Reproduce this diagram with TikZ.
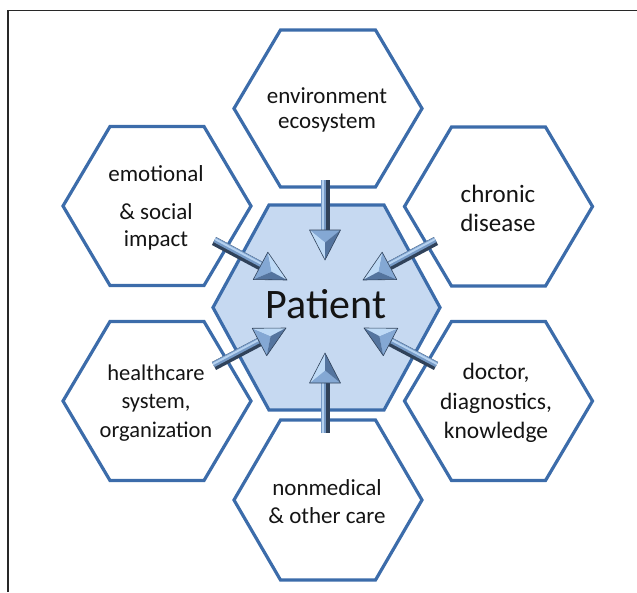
\documentclass[tikz,border=0pt]{standalone}
\usepackage{fontspec}
\setmainfont{Carlito}
\usetikzlibrary{calc}
\definecolor{hexblue}{RGB}{60,108,170}
\definecolor{hexfill}{RGB}{198,217,241}
\definecolor{framecol}{RGB}{40,40,40}
\definecolor{arrdark}{RGB}{48,66,90}
\definecolor{arrmid}{RGB}{118,154,198}
\definecolor{arrlight}{RGB}{182,210,240}
\definecolor{facetlight}{RGB}{190,218,246}
\definecolor{facetback}{RGB}{132,168,212}
\definecolor{facetdark}{RGB}{84,116,158}
\newcommand\hexcell[6]{%
  \draw[#1] (#2-#4,#3) -- (#2-#6,#3-#5) -- (#2+#6,#3-#5) -- (#2+#4,#3)
    -- (#2+#6,#3+#5) -- (#2-#6,#3+#5) -- cycle;}
\newcommand\bevelarrow[4]{% #1 start, #2 tip, #3 light side angle, #4 dark side angle
  \coordinate (bB) at ($(#2)!30pt!(#1)$);
  \coordinate (bL) at ($(bB)!15.5pt!#3:(#2)$);
  \coordinate (bR) at ($(bB)!15.5pt!#4:(#2)$);
  \coordinate (bC) at ($(bB)!0.42!(#2)$);
  \draw[line width=9pt, arrdark] (#1) -- (bB);
  \draw[line width=5.5pt, arrmid] ($(#1)!1.6pt!#3:(#2)$) -- ($(bB)!1.6pt!#3:(#2)$);
  \draw[line width=2pt, arrlight] ($(#1)!2.2pt!#3:(#2)$) -- ($(bB)!2.2pt!#3:(#2)$);
  \fill[facetback] (bL) -- (bR) -- (bC) -- cycle;
  \fill[facetlight] (bL) -- (#2) -- (bC) -- cycle;
  \fill[facetdark] (bR) -- (#2) -- (bC) -- cycle;
  \draw[arrdark, line width=0.6pt, line join=round] (bL) -- (#2) -- (bR) -- cycle;
}
\begin{document}
\begin{tikzpicture}[x=1pt,y=-1pt,
  hexline/.style={draw=hexblue, line width=3.2pt, line join=miter},
  hexcenter/.style={draw=hexblue, fill=hexfill, line width=3.2pt, line join=miter},
  lbl/.style={align=center, text=black!92, inner sep=0pt}]
\useasboundingbox (0,0) rectangle (637,592);
\draw[framecol, line width=1.1pt] (8,592) -- (8,10.5) -- (637,10.5);
% outer hexagons
\hexcell{hexline}{328}{108.5}{94}{78.5}{47.5}
\hexcell{hexline}{328}{500}{94}{80}{47.5}
\hexcell{hexline}{157}{206}{94}{79.5}{47}
\hexcell{hexline}{498.5}{206.5}{94}{79.5}{47}
\hexcell{hexline}{157}{401}{94}{79.5}{47}
\hexcell{hexline}{498.5}{401}{94}{79.5}{47}
% centre hexagon
\hexcell{hexcenter}{326.5}{307.5}{113.5}{102.5}{57.5}
% labels
\node[lbl, font=\fontsize{23}{25}\selectfont] (env) at (327,110) {environment\\ecosystem};
\node[lbl, font=\fontsize{25}{29}\selectfont] (chr) at (498,208) {chronic\\disease};
\node[lbl, font=\fontsize{23}{27}\selectfont] (emo) at (156,208) {emotional\\[11pt]\& social\\impact};
\node[lbl, font=\fontsize{22.5}{28.5}\selectfont] (hc) at (156,403) {healthcare\\system,\\organization};
\node[lbl, font=\fontsize{23.5}{29.5}\selectfont] (doc) at (496,403) {doctor,\\diagnostics,\\knowledge};
\node[lbl, font=\fontsize{23}{28}\selectfont] (nm) at (327,502) {nonmedical\\\& other care};
\node[lbl, font=\fontsize{42}{48}\selectfont] (pat) at (326,304) {Patient};
% arrows
\coordinate (sT) at (325,180);  \coordinate (tT) at (325,260);
\coordinate (sB) at (325,433);  \coordinate (tB) at (325,353);
\coordinate (sUL) at (214,241); \coordinate (tUL) at (287,280);
\coordinate (sUR) at (436,241); \coordinate (tUR) at (363,280);
\coordinate (sLL) at (214,366); \coordinate (tLL) at (286,328);
\coordinate (sLR) at (436,366); \coordinate (tLR) at (364,328);
\bevelarrow{sT}{tT}{-90}{90}
\bevelarrow{sB}{tB}{90}{-90}
\bevelarrow{sUL}{tUL}{90}{-90}
\bevelarrow{sUR}{tUR}{-90}{90}
\bevelarrow{sLL}{tLL}{90}{-90}
\bevelarrow{sLR}{tLR}{-90}{90}
\end{tikzpicture}
\end{document}
